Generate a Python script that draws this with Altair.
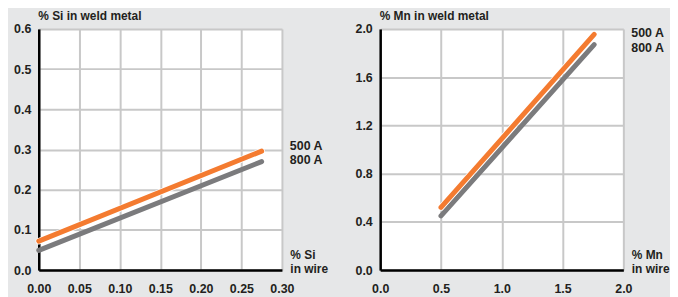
import altair as alt
import pandas as pd

# ---- data ----
series = ["500 A", "800 A"]

si_wire = [0.0, 0.275]
si_500 = [0.072, 0.296]
si_800 = [0.049, 0.270]
si_label_y = [0.298, 0.263]
si_x_ticks = [0.0, 0.05, 0.10, 0.15, 0.20, 0.25, 0.30]
si_y_ticks = [0.0, 0.1, 0.2, 0.3, 0.4, 0.5, 0.6]

mn_wire = [0.5, 1.76]
mn_500 = [0.52, 1.955]
mn_800 = [0.45, 1.87]
mn_label_y = [1.934, 1.811]
mn_x_ticks = [0.0, 0.5, 1.0, 1.5, 2.0]
mn_y_ticks = [0.0, 0.4, 0.8, 1.2, 1.6, 2.0]

ORANGE = "#f47b30"
GREY = "#7b7b7d"
BG = "#e6e7e8"
TXT = "#231f20"
FONT = "Liberation Sans"


def panel(wire, v500, v800, x_ticks, y_ticks, x_fmt, y_title, x_title, label_y):
    df = pd.DataFrame({
        "wire": list(wire) + list(wire),
        "weld": list(v500) + list(v800),
        "series": [series[0]] * len(wire) + [series[1]] * len(wire),
    })
    xdom = [x_ticks[0], x_ticks[-1]]
    ydom = [y_ticks[0], y_ticks[-1]]
    x = alt.X("wire:Q",
              scale=alt.Scale(domain=xdom, nice=False, zero=False),
              axis=alt.Axis(values=x_ticks, format=x_fmt, title=x_title,
                            titleX=253, titleY=-12, titleAlign="left",
                            titleBaseline="alphabetic", titleLineHeight=14,
                            labelPadding=13, labelFlush=False, labelOverlap=False))
    y = alt.Y("weld:Q",
              scale=alt.Scale(domain=ydom, nice=False, zero=False),
              axis=alt.Axis(values=y_ticks, format=".1f", title=y_title,
                            titleAngle=0, titleAlign="left", titleX=-1, titleY=-10,
                            titleBaseline="alphabetic", labelPadding=8,
                            labelFlush=False, labelOverlap=False))
    base = alt.Chart(df).encode(x=x, y=y)
    grey = base.transform_filter(alt.datum.series == series[1]).mark_line(
        color=GREY, strokeWidth=5, strokeCap="round")
    halo = base.transform_filter(alt.datum.series == series[0]).mark_line(
        color="white", strokeWidth=6.5, strokeCap="round")
    orange = base.transform_filter(alt.datum.series == series[0]).mark_line(
        color=ORANGE, strokeWidth=5, strokeCap="round")
    lab = pd.DataFrame({"wire": [xdom[1]] * 2, "weld": label_y, "text": series})
    labels = alt.Chart(lab).mark_text(
        align="left", baseline="alphabetic", dx=8, font=FONT, fontSize=12.5,
        fontWeight="bold", color=TXT).encode(
        x=alt.X("wire:Q"), y=alt.Y("weld:Q"), text="text:N")
    return alt.layer(grey, halo, orange, labels).properties(width=245, height=243)


left = panel(si_wire, si_500, si_800, si_x_ticks, si_y_ticks, ".2f",
             "% Si in weld metal", ["% Si", "in wire"], si_label_y)
right = panel(mn_wire, mn_500, mn_800, mn_x_ticks, mn_y_ticks, ".1f",
              "% Mn in weld metal", ["% Mn", "in wire"], mn_label_y)

chart = alt.hconcat(left, right, spacing=99, bounds="flush").properties(
    background=BG,
    padding={"left": 5, "top": 0, "right": 0, "bottom": 0},
).configure_view(fill="white", stroke=None).configure_axis(
    domainColor="black", domainWidth=2.5, ticks=False,
    gridColor="#c8c8c8", gridWidth=2,
    labelFont=FONT, labelFontSize=12.5, labelFontWeight="bold", labelColor=TXT,
    titleFont=FONT, titleFontSize=12, titleFontWeight="bold", titleColor=TXT,
)

chart.save("out.html", embed_options={"renderer": "svg", "actions": False})
